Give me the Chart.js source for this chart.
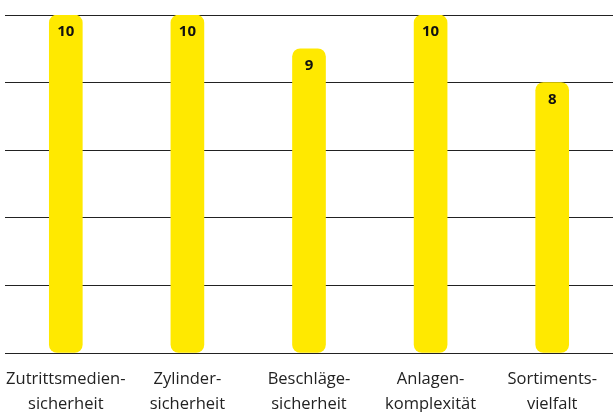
<!DOCTYPE html>
<html>
<head>
<meta charset="utf-8">
<script src="https://cdn.jsdelivr.net/npm/chart.js@4"></script>
<style>
html,body{margin:0;padding:0;background:#fff;}
#wrap{width:614px;height:412px;}
</style>
</head>
<body>
<div id="wrap"><canvas id="c" width="614" height="412"></canvas></div>
<script>
const categories = [
  ["Zutrittsmedien-", "sicherheit"],
  ["Zylinder-", "sicherheit"],
  ["Beschläge-", "sicherheit"],
  ["Anlagen-", "komplexität"],
  ["Sortiments-", "vielfalt"]
];
const values = [10, 10, 9, 10, 8];
const yTicks = [0, 2, 4, 6, 8, 10];

const valueLabels = {
  id: 'valueLabels',
  afterDatasetsDraw(chart) {
    const ctx = chart.ctx;
    const meta = chart.getDatasetMeta(0);
    ctx.save();
    ctx.font = 'bold 15px "Open Sans", sans-serif';
    ctx.fillStyle = '#111';
    ctx.textAlign = 'center';
    ctx.textBaseline = 'middle';
    meta.data.forEach((bar, i) => {
      ctx.fillText(String(values[i]), bar.x, bar.y + 17);
    });
    ctx.restore();
  }
};

new Chart(document.getElementById('c'), {
  type: 'bar',
  data: {
    labels: categories,
    datasets: [{
      data: values,
      backgroundColor: 'rgb(255,233,0)',
      borderRadius: 8,
      borderSkipped: false,
      barThickness: 33
    }]
  },
  options: {
    responsive: false,
    animation: false,
    devicePixelRatio: 1,
    layout: { padding: { top: 15, left: 5, right: 1, bottom: 0 } },
    plugins: { legend: { display: false }, tooltip: { enabled: false } },
    scales: {
      x: {
        grid: { display: false },
        border: { display: false },
        afterFit(scale) {
          scale.paddingLeft = 0;
          scale.paddingRight = 0;
          scale.height = 59;
        },
        ticks: {
          color: '#222',
          font: { family: '"Open Sans", sans-serif', size: 16.5, lineHeight: '25px' },
          padding: 6,
          maxRotation: 0,
          autoSkip: false
        }
      },
      y: {
        min: 0, max: 10,
        afterBuildTicks(scale) { scale.ticks = yTicks.map(v => ({ value: v })); },
        grid: { color: '#222', lineWidth: 1, drawTicks: false },
        border: { display: false },
        ticks: { display: false }
      }
    }
  },
  plugins: [valueLabels]
});
</script>
</body>
</html>
